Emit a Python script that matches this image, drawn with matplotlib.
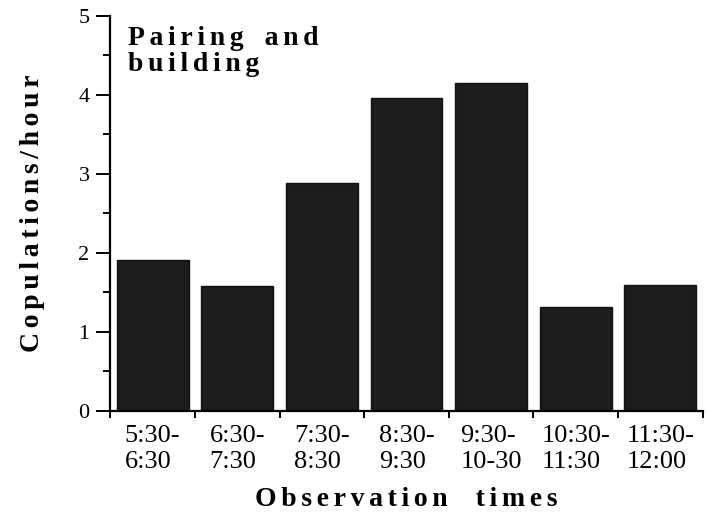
import matplotlib
matplotlib.use("Agg")
import matplotlib.pyplot as plt
from matplotlib.ticker import MultipleLocator

# Data
times = ["5:30-\n6:30", "6:30-\n7:30", "7:30-\n8:30", "8:30-\n9:30",
         "9:30-\n10-30", "10:30-\n11:30", "11:30-\n12:00"]
copulations = [1.91, 1.58, 2.89, 3.96, 4.15, 1.32, 1.59]


def spaced(s, gap):
    # crude letter spacing: put a narrow space between the letters
    return gap.join(s)


SIX = "\u2006"

plt.rcParams["font.family"] = ["Liberation Serif", "DejaVu Serif"]

fig = plt.figure(figsize=(7.07, 5.16), dpi=100)
ax = fig.add_axes([0.156, 0.2035, 0.838, 0.7655])

x = range(len(times))
ax.bar(x, copulations, width=0.85, color="#1c1c1c", edgecolor="#111111",
       linewidth=1, zorder=2)

ax.set_xlim(-0.5, len(times) - 0.5)
ax.set_ylim(0, 5)

# y axis ticks
ax.yaxis.set_major_locator(MultipleLocator(1))
ax.yaxis.set_minor_locator(MultipleLocator(0.5))
ax.tick_params(axis="y", which="major", length=10, width=1.4, labelsize=16,
               direction="out", pad=5)
ax.tick_params(axis="y", which="minor", length=5, width=1.4, direction="out")

# x axis: ticks at category boundaries, labels at centers
ax.set_xticks([i - 0.5 for i in range(len(times) + 1)])
ax.set_xticklabels([])
ax.set_xticks(list(x), minor=True)
ax.set_xticklabels(times, minor=True, fontsize=19, multialignment="left",
                   linespacing=1.27)
ax.tick_params(axis="x", which="major", length=5, width=1.4, direction="out")
ax.tick_params(axis="x", which="minor", length=0, pad=10)

for side in ["top", "right"]:
    ax.spines[side].set_visible(False)
ax.spines["left"].set_linewidth(1.6)
ax.spines["bottom"].set_linewidth(1.6)

ax.set_ylabel(spaced("Copulations/hour", SIX), fontsize=20,
              fontweight="bold", labelpad=24)
ax.set_xlabel(spaced("Observation", SIX) + "    " + spaced("times", SIX),
              fontsize=20, fontweight="bold", labelpad=10)

ax.text(0.03, 0.975,
        spaced("Pairing", SIX) + "   " + spaced("and", SIX) + "\n"
        + spaced("building", SIX),
        transform=ax.transAxes, fontsize=20, fontweight="bold",
        va="top", ha="left", linespacing=1.05)

fig.savefig("out.png", dpi=100)
